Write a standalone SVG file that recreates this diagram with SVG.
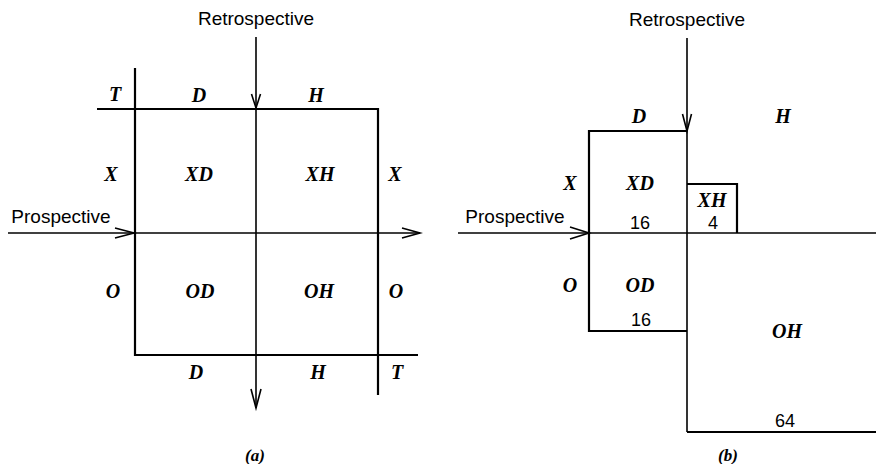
<svg xmlns="http://www.w3.org/2000/svg" width="876" height="464" viewBox="0 0 876 464">
<style>
  .frame { fill: none; stroke: #000; stroke-width: 2.2; stroke-linejoin: miter; }
  .arrow { fill: none; stroke: #000; stroke-width: 1.6; }
  .head { fill: none; stroke: #000; stroke-width: 1.6; stroke-linejoin: miter; }
  .lab { font-family: "Liberation Serif", "Times New Roman", serif; font-style: italic; font-weight: bold; font-size: 20px; text-anchor: middle; fill: #000; }
  .sans { font-family: "Liberation Sans", Arial, sans-serif; font-size: 19px; text-anchor: middle; fill: #000; }
  .num { font-family: "Liberation Sans", Arial, sans-serif; font-size: 18px; text-anchor: middle; fill: #000; }
  .cap { font-family: "Liberation Serif", "Times New Roman", serif; font-style: italic; font-weight: bold; font-size: 17px; text-anchor: middle; fill: #000; }
</style>
<rect width="876" height="464" fill="#fff"/>

<!-- Panel (a) -->
<g id="panel-a">
  <g id="a-frame">
    <path class="frame" d="M135 68 V355 H418"/>
    <path class="frame" d="M97 109 H378 V395"/>
  </g>
  <g id="a-labels">
    <text class="lab" x="115" y="101">T</text>
    <text class="lab" x="199" y="102">D</text>
    <text class="lab" x="316" y="102">H</text>
    <text class="lab" x="111" y="181">X</text>
    <text class="lab" x="395" y="181">X</text>
    <text class="lab" x="113" y="298">O</text>
    <text class="lab" x="396" y="298">O</text>
    <text class="lab" x="196" y="379">D</text>
    <text class="lab" x="318" y="379">H</text>
    <text class="lab" x="397" y="379">T</text>
  </g>
  <g id="a-XD"><text class="lab" x="199" y="181">XD</text></g>
  <g id="a-XH"><text class="lab" x="320" y="181">XH</text></g>
  <g id="a-OD"><text class="lab" x="200" y="298">OD</text></g>
  <g id="a-OH"><text class="lab" x="319" y="298">OH</text></g>
  <text class="sans" x="256" y="25">Retrospective</text>
  <text class="sans" x="61" y="223">Prospective</text>
  <text class="cap" x="255" y="461">(a)</text>
</g>

<!-- Panel (b) -->
<g id="panel-b">
  <g id="b-XD">
    <path class="frame" d="M687 131 H589 V331 H687"/>
    <text class="lab" x="640" y="190">XD</text>
    <text class="num" x="640" y="229">16</text>
  </g>
  <g id="b-XH">
    <path class="frame" d="M687 184 H737 V233"/>
    <text class="lab" x="712" y="207">XH</text>
    <text class="num" x="713" y="229">4</text>
  </g>
  <g id="b-OD">
    <text class="lab" x="640" y="292">OD</text>
    <text class="num" x="641" y="326">16</text>
  </g>
  <g id="b-OH">
    <path class="frame" d="M687 432 H876"/>
    <text class="lab" x="787" y="338">OH</text>
    <text class="num" x="785" y="427">64</text>
  </g>
  <g id="b-labels">
    <text class="lab" x="639" y="123">D</text>
    <text class="lab" x="783" y="123">H</text>
    <text class="lab" x="570" y="190">X</text>
    <text class="lab" x="570" y="292">O</text>
  </g>
  <text class="sans" x="687" y="26">Retrospective</text>
  <text class="sans" x="515" y="223">Prospective</text>
  <text class="cap" x="728" y="461">(b)</text>
</g>

<!-- Connectors -->
<g id="connectors">
  <!-- (a) retrospective -->
  <line class="arrow" x1="256" y1="37" x2="256" y2="408"/>
  <polyline class="head" points="251.5,94 256,108 260.5,94"/>
  <polyline class="head" points="251,389 256,408 261,389"/>
  <!-- (a) prospective -->
  <line class="arrow" x1="8" y1="233" x2="420" y2="233"/>
  <polyline class="head" points="115,228 134,233 115,238"/>
  <polyline class="head" points="402,228 420,233 402,238"/>
  <!-- (b) retrospective -->
  <line class="arrow" x1="687" y1="38" x2="687" y2="432"/>
  <polyline class="head" points="682.5,114 687,131 691.5,114"/>
  <!-- (b) prospective -->
  <line class="arrow" x1="458" y1="233" x2="876" y2="233"/>
  <polyline class="head" points="570,227 589,233 570,239"/>
</g>
</svg>
